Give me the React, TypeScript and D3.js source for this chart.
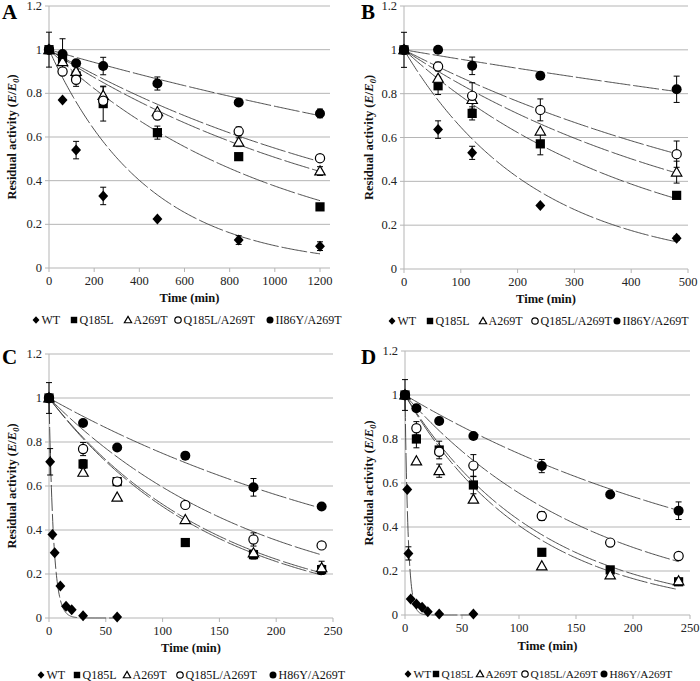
import React from "react";
import * as d3 from "d3";

// ---------- DATA ----------
const seriesNames = ["WT", "Q185L", "A269T", "Q185L/A269T", "H86Y/A269T"];
const legendLabelsAB = ["WT", "Q185L", "A269T", "Q185L/A269T", "II86Y/A269T"];
const legendLabelsCD = ["WT", "Q185L", "A269T", "Q185L/A269T", "H86Y/A269T"];
const markers = ["diamond", "square", "triangle", "openCircle", "filledCircle"];
const yTicks = [0, 0.2, 0.4, 0.6, 0.8, 1, 1.2];

// Panel A
const xTicksA = [0, 200, 400, 600, 800, 1000, 1200];
const timesA = [0, 60, 120, 240, 480, 840, 1200];
const wtA = [1, 0.77, 0.54, 0.33, 0.224, 0.128, 0.1];
const q185lA = [1, 0.96, 0.88, 0.753, 0.62, 0.51, 0.28];
const a269tA = [1, 0.945, 0.9, 0.79, 0.716, 0.576, 0.444];
const qaA = [1, 0.9, 0.862, 0.766, 0.698, 0.626, 0.503];
const h86yA = [1, 0.98, 0.938, 0.925, 0.845, 0.758, 0.708];
const wtErrA = [0.08, 0, 0.04, 0.04, 0, 0.02, 0.02];
const q185lErrA = [0, 0, 0.03, 0.08, 0.03, 0, 0];
const a269tErrA = [0, 0, 0, 0.04, 0, 0.02, 0.02];
const qaErrA = [0, 0, 0.03, 0, 0, 0.02, 0];
const h86yErrA = [0, 0.07, 0, 0.04, 0.03, 0, 0.02];
const fitKA = [0.00228, 0.00098, 0.00068, 0.0006, 0.0003];

// Panel B
const xTicksB = [0, 100, 200, 300, 400, 500];
const timesB = [0, 60, 120, 240, 480];
const wtB = [1, 0.636, 0.53, 0.29, 0.14];
const q185lB = [1, 0.836, 0.71, 0.571, 0.336];
const a269tB = [1, 0.87, 0.773, 0.629, 0.442];
const qaB = [1, 0.924, 0.79, 0.726, 0.524];
const h86yB = [1, 1.0, 0.927, 0.882, 0.82];
const wtErrB = [0.08, 0.04, 0.03, 0, 0.01];
const q185lErrB = [0, 0.04, 0.03, 0.05, 0];
const a269tErrB = [0, 0, 0, 0, 0.05];
const qaErrB = [0, 0.02, 0.06, 0.05, 0.06];
const h86yErrB = [0, 0, 0.04, 0, 0.06];
const fitKB = [0.00435, 0.00237, 0.00172, 0.00134, 0.00044];

// Panel C
const xTicksCD = [0, 50, 100, 150, 200, 250];
const timesWtC = [0, 1, 3, 5, 10, 15, 20, 30, 60];
const wtC = [1, 0.71, 0.38, 0.297, 0.146, 0.053, 0.037, 0.01, 0.005];
const wtErrC = [0.07, 0.06, 0, 0, 0, 0, 0, 0, 0];
const timesC = [0, 30, 60, 120, 180, 240];
const q185lC = [1, 0.7, 0.62, 0.343, 0.288, 0.22];
const a269tC = [1, 0.662, 0.549, 0.447, 0.296, 0.228];
const qaC = [1, 0.768, 0.62, 0.514, 0.357, 0.33];
const h86yC = [1, 0.886, 0.775, 0.738, 0.594, 0.507];
const q185lErrC = [0, 0.02, 0, 0, 0.02, 0.02];
const a269tErrC = [0, 0, 0, 0, 0, 0.03];
const qaErrC = [0, 0.03, 0, 0, 0.03, 0];
const h86yErrC = [0, 0, 0, 0, 0.04, 0];
const fitKC = [0.25, 0.0066, 0.0068, 0.0052, 0.0029];

// Panel D
const timesWtD = [0, 2, 3, 5, 10, 15, 20, 30, 60];
const wtD = [1, 0.57, 0.28, 0.073, 0.05, 0.035, 0.015, 0.005, 0.004];
const wtErrD = [0.07, 0, 0.03, 0, 0, 0, 0, 0, 0];
const timesD = [0, 10, 30, 60, 120, 180, 240];
const q185lD = [1, 0.8, 0.75, 0.591, 0.285, 0.205, 0.151];
const a269tD = [1, 0.7, 0.656, 0.526, 0.223, 0.182, 0.155];
const qaD = [1, 0.849, 0.742, 0.679, 0.45, 0.329, 0.268];
const h86yD = [1, 0.94, 0.882, 0.814, 0.677, 0.548, 0.474];
const q185lErrD = [0, 0.04, 0.04, 0.04, 0, 0, 0];
const a269tErrD = [0, 0, 0.03, 0, 0, 0, 0];
const qaErrD = [0, 0.03, 0, 0.05, 0.02, 0, 0];
const h86yErrD = [0, 0, 0, 0, 0.03, 0, 0.04];
const fitKD = [0.36, 0.0084, 0.009, 0.0059, 0.0031];

// ---------- HELPERS ----------
type Series = { t: number[]; v: number[]; e: number[] };

const FONT = "Liberation Serif";
const GRID = "#b5b5b5";

function Marker({ kind, x, y, s = 1 }: { kind: string; x: number; y: number; s?: number }) {
  if (kind === "diamond") {
    const r = 5.5 * s;
    return <path d={`M${x},${y - r}L${x + r * 0.9},${y}L${x},${y + r}L${x - r * 0.9},${y}Z`} fill="#000" />;
  }
  if (kind === "square") {
    const h = 4.6 * s;
    return <rect x={x - h} y={y - h} width={2 * h} height={2 * h} fill="#000" />;
  }
  if (kind === "triangle") {
    const h = 5.2 * s;
    return (
      <path
        d={`M${x},${y - h}L${x + h},${y + h * 0.75}L${x - h},${y + h * 0.75}Z`}
        fill="#fff"
        stroke="#000"
        strokeWidth={1.2}
      />
    );
  }
  if (kind === "openCircle") {
    return <circle cx={x} cy={y} r={4.6 * s} fill="#fff" stroke="#000" strokeWidth={1.2} />;
  }
  return <circle cx={x} cy={y} r={5 * s} fill="#000" />;
}

type PanelProps = {
  letter: string;
  x0: number;
  x1: number;
  gridRight: number;
  yTop: number;
  yBottom: number;
  xMax: number;
  xTicks: number[];
  series: Series[];
  fitK: number[];
  fitEnd: number[];
  legendLabels: string[];
  legendX: number[];
  legendY: number;
  legendFont: number;
  titleY: number;
  letterX: number;
  letterY: number;
  ylabX: number;
};

function Panel(p: PanelProps) {
  const x = d3.scaleLinear().domain([0, p.xMax]).range([p.x0, p.x1]);
  const y = d3.scaleLinear().domain([0, 1.2]).range([p.yBottom, p.yTop]);
  const line = d3
    .line<[number, number]>()
    .x((d) => x(d[0]))
    .y((d) => y(d[1]))
    .curve(d3.curveLinear);
  const order = [0, 1, 2, 3, 4];
  const ylabCenter = (p.yTop + p.yBottom) / 2;
  return (
    <g fontFamily={FONT}>
      {/* gridlines */}
      {yTicks.map((t) => (
        <line key={"g" + t} x1={p.x0} x2={p.gridRight} y1={y(t)} y2={y(t)} stroke={GRID} strokeWidth={1} />
      ))}
      {/* y axis */}
      <line x1={p.x0} x2={p.x0} y1={p.yTop} y2={p.yBottom} stroke={GRID} strokeWidth={1} />
      {yTicks.map((t) => (
        <g key={"yt" + t}>
          <line x1={p.x0 - 4} x2={p.x0} y1={y(t)} y2={y(t)} stroke={GRID} />
          <text x={p.x0 - 7} y={y(t) + 4} fontSize={12.5} textAnchor="end" fill="#222">
            {d3.format("~g")(t)}
          </text>
        </g>
      ))}
      {/* x axis ticks */}
      {p.xTicks.map((t) => (
        <g key={"xt" + t}>
          <line x1={x(t)} x2={x(t)} y1={p.yBottom} y2={p.yBottom + 4} stroke={GRID} />
          <text x={x(t)} y={p.yBottom + 17} fontSize={12.5} textAnchor="middle" fill="#222">
            {t}
          </text>
        </g>
      ))}
      <text
        x={(p.x0 + p.gridRight) / 2}
        y={p.titleY}
        fontSize={12.5}
        fontWeight="bold"
        textAnchor="middle"
        fill="#111"
      >
        Time (min)
      </text>
      <text
        transform={`translate(${p.ylabX},${ylabCenter}) rotate(-90)`}
        fontSize={12.5}
        fontWeight="bold"
        textAnchor="middle"
        fill="#111"
      >
        Residual activity (<tspan fontStyle="italic">E</tspan>/<tspan fontStyle="italic">E</tspan>
        <tspan fontStyle="italic" fontSize={8.5} dy={3}>0</tspan>
        <tspan dy={-3}>)</tspan>
      </text>
      <text x={p.letterX} y={p.letterY} fontSize={21} fontWeight="bold" fill="#000">
        {p.letter}
      </text>
      {/* fitted curves */}
      {order.map((i) => {
        const pts: [number, number][] = d3
          .range(0, p.fitEnd[i] + 1e-9, p.fitEnd[i] / 200)
          .map((t) => [t, Math.exp(-p.fitK[i] * t)] as [number, number]);
        return (
          <path
            key={"fit" + i}
            d={line(pts) || ""}
            fill="none"
            stroke="#3a3a3a"
            strokeWidth={0.9}
            strokeDasharray="26 3"
          />
        );
      })}
      {/* error bars */}
      {order.map((i) =>
        p.series[i].t.map((t, j) => {
          const e = p.series[i].e[j];
          if (!e) return null;
          const cx = x(t);
          const y1 = y(p.series[i].v[j] + e);
          const y2 = y(p.series[i].v[j] - e);
          return (
            <g key={`eb${i}-${j}`} stroke="#000" strokeWidth={1}>
              <line x1={cx} x2={cx} y1={y1} y2={y2} />
              <line x1={cx - 3} x2={cx + 3} y1={y1} y2={y1} />
              <line x1={cx - 3} x2={cx + 3} y1={y2} y2={y2} />
            </g>
          );
        })
      )}
      {/* markers */}
      {order.map((i) =>
        p.series[i].t.map((t, j) => (
          <Marker key={`m${i}-${j}`} kind={markers[i]} x={x(t)} y={y(p.series[i].v[j])} />
        ))
      )}
      {/* legend */}
      {order.map((i) => (
        <g key={"lg" + i}>
          <Marker kind={markers[i]} x={p.legendX[i]} y={p.legendY - 4} s={0.7} />
          <text x={p.legendX[i] + 5.5} y={p.legendY} fontSize={p.legendFont} fill="#111">
            {p.legendLabels[i]}
          </text>
        </g>
      ))}
    </g>
  );
}

export default function App() {
  const sA: Series[] = [
    { t: timesA, v: wtA, e: wtErrA },
    { t: timesA, v: q185lA, e: q185lErrA },
    { t: timesA, v: a269tA, e: a269tErrA },
    { t: timesA, v: qaA, e: qaErrA },
    { t: timesA, v: h86yA, e: h86yErrA },
  ];
  const sB: Series[] = [
    { t: timesB, v: wtB, e: wtErrB },
    { t: timesB, v: q185lB, e: q185lErrB },
    { t: timesB, v: a269tB, e: a269tErrB },
    { t: timesB, v: qaB, e: qaErrB },
    { t: timesB, v: h86yB, e: h86yErrB },
  ];
  const sC: Series[] = [
    { t: timesWtC, v: wtC, e: wtErrC },
    { t: timesC, v: q185lC, e: q185lErrC },
    { t: timesC, v: a269tC, e: a269tErrC },
    { t: timesC, v: qaC, e: qaErrC },
    { t: timesC, v: h86yC, e: h86yErrC },
  ];
  const sD: Series[] = [
    { t: timesWtD, v: wtD, e: wtErrD },
    { t: timesD, v: q185lD, e: q185lErrD },
    { t: timesD, v: a269tD, e: a269tErrD },
    { t: timesD, v: qaD, e: qaErrD },
    { t: timesD, v: h86yD, e: h86yErrD },
  ];
  return (
    <svg
      width={700}
      height={681}
      fontFamily={FONT}
      style={{ position: "absolute", left: 0, top: 0, background: "#fff" }}
      aria-label={seriesNames.join(", ")}
    >
      <rect width={700} height={681} fill="#fff" />
      <Panel
        letter="A"
        x0={49}
        x1={320}
        gridRight={330}
        yTop={6}
        yBottom={268}
        xMax={1200}
        xTicks={xTicksA}
        series={sA}
        fitK={fitKA}
        fitEnd={[1200, 1200, 1200, 1200, 1200]}
        legendLabels={legendLabelsAB}
        legendX={[36, 74, 128, 178, 270]}
        legendY={324}
        legendFont={12}
        titleY={302}
        letterX={2}
        letterY={19}
        ylabX={16}
      />
      <Panel
        letter="B"
        x0={404}
        x1={688}
        gridRight={688}
        yTop={6}
        yBottom={269}
        xMax={500}
        xTicks={xTicksB}
        series={sB}
        fitK={fitKB}
        fitEnd={[480, 480, 480, 480, 480]}
        legendLabels={legendLabelsAB}
        legendX={[392, 430, 483, 535, 617]}
        legendY={325}
        legendFont={12}
        titleY={303}
        letterX={361}
        letterY={19}
        ylabX={373}
      />
      <Panel
        letter="C"
        x0={49}
        x1={333}
        gridRight={333}
        yTop={354}
        yBottom={618}
        xMax={250}
        xTicks={xTicksCD}
        series={sC}
        fitK={fitKC}
        fitEnd={[60, 240, 240, 240, 240]}
        legendLabels={legendLabelsCD}
        legendX={[41, 77, 127, 180, 273]}
        legendY={679}
        legendFont={12}
        titleY={652}
        letterX={2}
        letterY={364}
        ylabX={16}
      />
      <Panel
        letter="D"
        x0={405}
        x1={690}
        gridRight={690}
        yTop={351}
        yBottom={615}
        xMax={250}
        xTicks={xTicksCD}
        series={sD}
        fitK={fitKD}
        fitEnd={[60, 240, 240, 240, 240]}
        legendLabels={legendLabelsCD}
        legendX={[408, 436, 480, 525, 604]}
        legendY={678}
        legendFont={11.3}
        titleY={650}
        letterX={361}
        letterY={364}
        ylabX={373}
      />
    </svg>
  );
}
